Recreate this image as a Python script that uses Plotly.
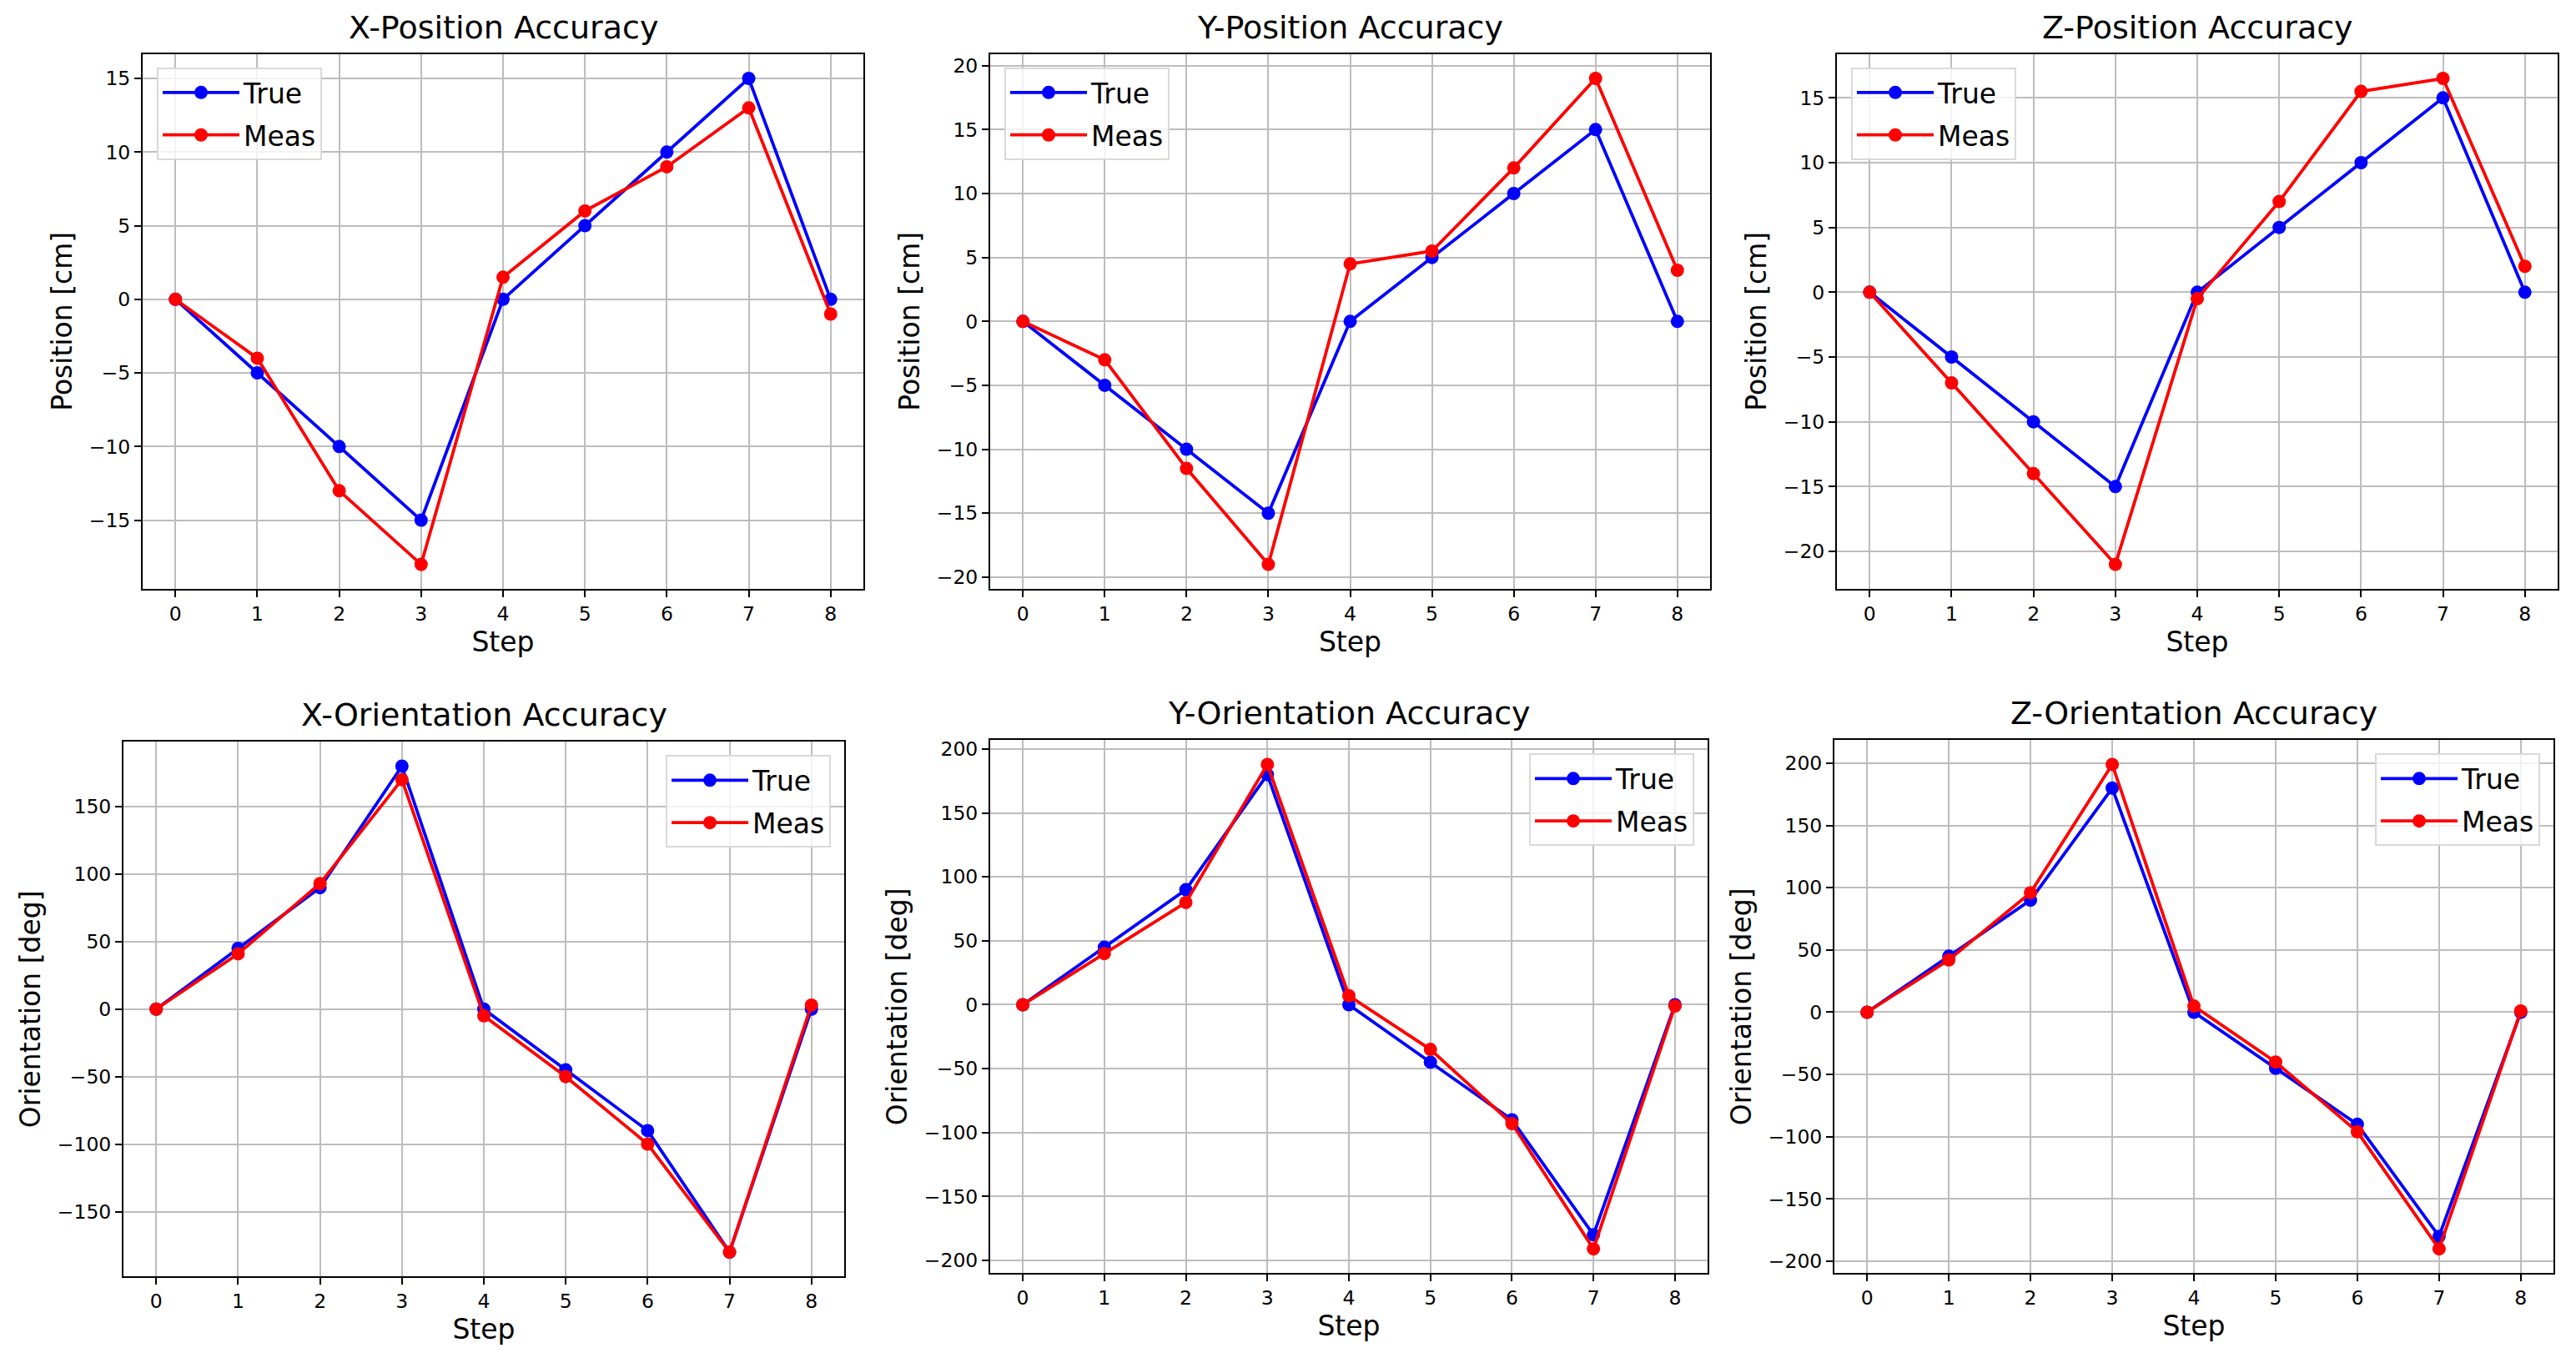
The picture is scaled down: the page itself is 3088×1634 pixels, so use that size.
import plotly.graph_objects as go

# ---------------- data ----------------
steps = [0, 1, 2, 3, 4, 5, 6, 7, 8]
x_ticks = [0, 1, 2, 3, 4, 5, 6, 7, 8]

pos_true = [0, -5, -10, -15, 0, 5, 10, 15, 0]
x_pos_meas = [0, -4, -13, -18, 1.5, 6, 9, 13, -1]
y_pos_meas = [0, -3, -11.5, -19, 4.5, 5.5, 12, 19, 4]
z_pos_meas = [0, -7, -14, -21, -0.5, 7, 15.5, 16.5, 2]

ori_true = [0, 45, 90, 180, 0, -45, -90, -180, 0]
x_ori_meas = [0, 41, 93, 170, -5, -50, -100, -180, 3]
y_ori_meas = [0, 40, 80, 188, 7, -35, -93, -191, -1]
z_ori_meas = [0, 42, 96, 199, 5, -40, -96, -190, 1]

titles = ["X-Position Accuracy", "Y-Position Accuracy", "Z-Position Accuracy",
          "X-Orientation Accuracy", "Y-Orientation Accuracy", "Z-Orientation Accuracy"]
y_labels = ["Position [cm]"] * 3 + ["Orientation [deg]"] * 3
x_label = "Step"
series_names = ["True", "Meas"]
true_series = [pos_true, pos_true, pos_true, ori_true, ori_true, ori_true]
meas_series = [x_pos_meas, y_pos_meas, z_pos_meas, x_ori_meas, y_ori_meas, z_ori_meas]
y_dticks = [5, 5, 5, 50, 50, 50]

# ---------------- layout constants (pixels in the 3088x1634 window) ----------------
WIN_W, WIN_H = 3088, 1634
OFF = 8                      # page body margin
W, H = WIN_W - 2 * OFF, WIN_H - 2 * OFF
# (left, right, top, bottom) of each plotting area, in window pixels
boxes = [
    (171, 1035, 62, 704),
    (1187, 2050, 62, 704),
    (2202, 3066, 62, 704),
    (148, 1012, 888, 1530),
    (1187, 2047, 886, 1526),
    (2199, 3061, 886, 1526),
]
FONT = "DejaVu Sans"
BLUE = "#0000ff"
RED = "#ff0000"


def px_x(v):
    return (v - OFF) / W


def px_y(v):
    return 1 - (v - OFF) / H


fig = go.Figure()
layout = dict(
    width=W, height=H,
    margin=dict(l=0, r=0, t=0, b=0),
    paper_bgcolor="white", plot_bgcolor="white",
    font=dict(family=FONT, color="black", size=24),
    showlegend=True,
    annotations=[],
)


def padded_range(vals, frac=0.05):
    lo, hi = min(vals), max(vals)
    span = hi - lo
    return [lo - frac * span, hi + frac * span]


for i in range(6):
    n = i + 1
    xa = "x" if n == 1 else f"x{n}"
    ya = "y" if n == 1 else f"y{n}"
    lg = "legend" if n == 1 else f"legend{n}"
    l, r, t, b = boxes[i]

    fig.add_trace(go.Scatter(
        x=steps, y=true_series[i], name=series_names[0], mode="lines+markers",
        line=dict(color=BLUE, width=3.8), marker=dict(color=BLUE, size=16),
        xaxis=xa, yaxis=ya, legend=lg, legendgroup=f"t{n}",
    ))
    fig.add_trace(go.Scatter(
        x=steps, y=meas_series[i], name=series_names[1], mode="lines+markers",
        line=dict(color=RED, width=3.8), marker=dict(color=RED, size=16),
        xaxis=xa, yaxis=ya, legend=lg, legendgroup=f"m{n}",
    ))

    axis_common = dict(
        showline=True, mirror=True, linecolor="black", linewidth=2,
        ticks="outside", ticklen=8, tickwidth=2, tickcolor="black",
        showgrid=True, gridcolor="#bdbdbd", gridwidth=2,
        zeroline=False, tickfont=dict(family=FONT, size=23.5, color="black"),
    )
    layout["xaxis" if n == 1 else f"xaxis{n}"] = dict(
        axis_common, domain=[px_x(l), px_x(r)], anchor=ya,
        range=padded_range(steps), tickvals=x_ticks,
        title=dict(text=x_label, font=dict(family=FONT, size=33), standoff=8),
    )
    layout["yaxis" if n == 1 else f"yaxis{n}"] = dict(
        axis_common, domain=[px_y(b), px_y(t)], anchor=xa,
        range=padded_range(true_series[i] + meas_series[i]), dtick=y_dticks[i],
        title=dict(text=y_labels[i], font=dict(family=FONT, size=33), standoff=10),
    )

    if i < 3:
        leg_pos = dict(x=px_x(l + 17), xanchor="left")
    else:
        leg_pos = dict(x=px_x(r - 16), xanchor="right")
    layout[lg] = dict(
        leg_pos, y=px_y(t + 16), yanchor="top",
        bgcolor="rgba(255,255,255,0.8)", bordercolor="#d9d9d9", borderwidth=2,
        font=dict(family=FONT, size=33, color="black"), itemwidth=92,
        tracegroupgap=5,
    )

    layout["annotations"].append(dict(
        text=titles[i], xref=f"{xa} domain", yref=f"{ya} domain",
        x=0.5, y=1, xanchor="center", yanchor="bottom", yshift=8,
        showarrow=False, font=dict(family=FONT, size=38, color="black"),
    ))

fig.update_layout(**layout)
fig.write_html("out.html")
